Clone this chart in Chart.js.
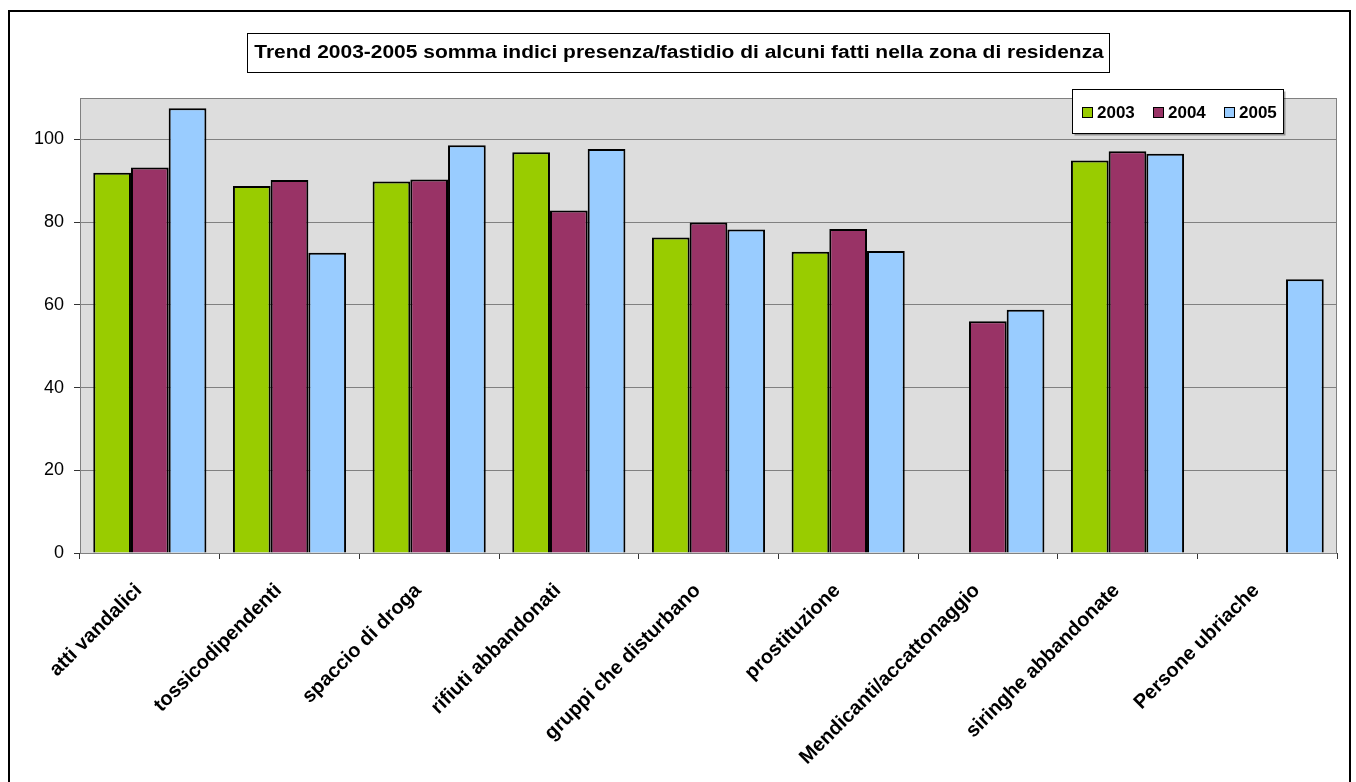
<!DOCTYPE html>
<html>
<head>
<meta charset="utf-8">
<script src="https://cdn.jsdelivr.net/npm/chart.js@4"></script>
<style>
 body{margin:0;background:#fff;}
 canvas{display:block;}
</style>
</head>
<body>
<canvas id="chart" width="1356" height="782"></canvas>
<script>
// data
const categories = ["atti vandalici","tossicodipendenti","spaccio di droga","rifiuti abbandonati",
  "gruppi che disturbano","prostituzione","Mendicanti/accattonaggio","siringhe abbandonate","Persone ubriache"];
const years = ["2003","2004","2005"];
const v2003 = [91.9, 88.7, 89.8, 96.9, 76.3, 72.8, null, 94.9, null];
const v2004 = [93.2, 90.2, 90.3, 82.8, 79.9, 78.3, 56.0, 97.1, null];
const v2005 = [107.5, 72.6, 98.6, 97.7, 78.2, 73.0, 58.8, 96.5, 66.2];
const yTicks = [0, 20, 40, 60, 80, 100];
const titleText = "Trend 2003-2005 somma indici presenza/fastidio di alcuni fatti nella zona di residenza";

const colors = ["#99CC00", "#993366", "#99CCFF"];
const FONT = "'Liberation Sans', Arial, sans-serif";

/* frame, plot background, title box, legend box */
const excelLook = {
 id: "excelLook",
 beforeDraw(chart){
   const c = chart.ctx, a = chart.chartArea;
   c.save();
   c.fillStyle = "#fff";
   c.fillRect(0, 0, chart.width, chart.height);
   c.fillStyle = "#DDDDDD";
   c.fillRect(a.left, a.top, a.right - a.left, a.bottom - a.top);
   c.restore();
 },
 beforeDatasetsDraw(chart){
   const c = chart.ctx, a = chart.chartArea;
   c.save();
   c.strokeStyle = "#808080";
   c.lineWidth = 1;
   c.strokeRect(a.left + 0.5, a.top + 0.5, a.right - a.left - 1, a.bottom - a.top);
   c.restore();
 },
 afterDraw(chart){
   const c = chart.ctx;
   c.save();
   // outer border
   c.strokeStyle = "#000";
   c.lineWidth = 2;
   c.strokeRect(9, 11, 1341, 800);

   // title box
   c.lineWidth = 1;
   c.fillStyle = "#fff";
   c.fillRect(247.5, 33.5, 862, 39);
   c.strokeRect(247.5, 33.5, 862, 39);
   c.fillStyle = "#000";
   c.font = "bold 18px " + FONT;
   c.textAlign = "center";
   c.textBaseline = "middle";
   c.save();
   c.translate(679, 53.5);
   c.scale(1.165, 1);   // the reference text is a bit wider than Arial
   c.fillText(titleText, 0, 0);
   c.restore();

   // legend box
   const lx = 1072.5, ly = 89.5, lw = 211, lh = 44;
   c.fillStyle = "rgba(0,0,0,0.35)";
   c.fillRect(lx + 2, ly + 2, lw, lh);
   c.fillStyle = "#fff";
   c.fillRect(lx, ly, lw, lh);
   c.strokeStyle = "#000";
   c.strokeRect(lx, ly, lw, lh);
   c.font = "bold 17px " + FONT;
   c.textAlign = "left";
   let x = 1082;
   chart.data.datasets.forEach(ds => {
     c.fillStyle = ds.backgroundColor;
     c.fillRect(x + 0.5, 107.5, 10, 10);
     c.strokeStyle = "#000";
     c.lineWidth = 1;
     c.strokeRect(x + 0.5, 107.5, 10, 10);
     c.fillStyle = "#000";
     c.fillText(ds.label, x + 15, 113);
     x += 71;
   });
   c.restore();
 }
};

new Chart(document.getElementById("chart"), {
 type: "bar",
 data: {
   labels: categories,
   datasets: [
     {label: years[0], data: v2003, backgroundColor: colors[0]},
     {label: years[1], data: v2004, backgroundColor: colors[1]},
     {label: years[2], data: v2005, backgroundColor: colors[2]}
   ].map(d => Object.assign(d, {
     borderColor: "#000", borderWidth: 2,
     categoryPercentage: 0.81, barPercentage: 1.0
   }))
 },
 options: {
   responsive: false,
   animation: false,
   layout: {padding: {left: 0, top: 98, right: 19, bottom: 0}},
   plugins: {
     legend: {display: false},
     title: {display: false},
     tooltip: {enabled: false}
   },
   scales: {
     x: {
       grid: {drawOnChartArea: false, offset: true, tickLength: 6, tickColor: "#333"},
       border: {color: "#333", width: 1},
       ticks: {
         autoSkip: false, minRotation: 45, maxRotation: 45, padding: 20, labelOffset: -11,
         color: "#000", font: {family: FONT, size: 20, weight: "bold"}
       },
       afterFit(s){ s.height = 782 - 553 - 0; }
     },
     y: {
       min: 0, max: 110,
       grid: {color: "#808080", tickLength: 6, tickColor: "#333"},
       border: {color: "#333", width: 1},
       ticks: {
         stepSize: 20, padding: 10, color: "#000",
         font: {family: FONT, size: 18}
       },
       afterBuildTicks(s){ s.ticks = yTicks.map(v => ({value: v})); },
       afterFit(s){ s.width = 80; }
     }
   }
 },
 plugins: [excelLook]
});
</script>
</body>
</html>
